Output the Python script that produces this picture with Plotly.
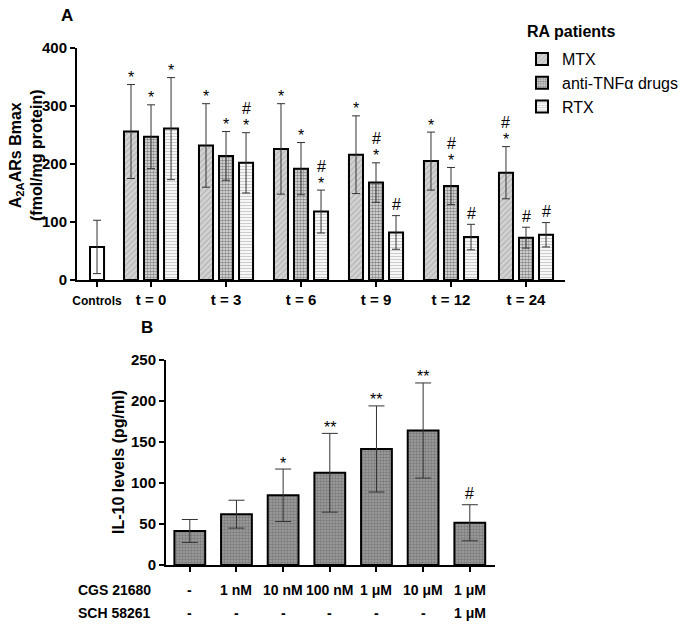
import plotly.graph_objects as go

# ---------------- Panel A data ----------------
groups_a = ["t = 0", "t = 3", "t = 6", "t = 9", "t = 12", "t = 24"]
control_label = "Controls"
control_mean = [57]
control_err = [46]

mtx_mean = [256, 232, 226, 216, 205, 185]
mtx_err = [81, 72, 78, 67, 50, 45]
anti_mean = [247, 214, 192, 168, 162, 73]
anti_err = [55, 42, 45, 34, 32, 18]
rtx_mean = [261, 202, 118, 82, 74, 78]
rtx_err = [88, 52, 37, 29, 22, 21]

# significance marks (lower, upper)
mtx_sig = [("*", ""), ("*", ""), ("*", ""), ("*", ""), ("*", ""), ("*", "#")]
anti_sig = [("*", ""), ("*", ""), ("*", ""), ("*", "#"), ("*", "#"), ("#", "")]
rtx_sig = [("*", ""), ("*", "#"), ("*", "#"), ("#", ""), ("#", ""), ("#", "")]

series_names = ["MTX", "anti-TNF\u03b1 drugs", "RTX"]
yticks_a = [0, 100, 200, 300, 400]

# ---------------- Panel B data ----------------
cgs_labels = ["-", "1 nM", "10 nM", "100 nM", "1 \u03bcM", "10 \u03bcM", "1 \u03bcM"]
sch_labels = ["-", "-", "-", "-", "-", "-", "1 \u03bcM"]
il10_mean = [41.5, 62, 85, 112.5, 141.5, 164, 51.5]
il10_err = [14, 17, 32, 48, 52.5, 58, 22]
il10_sig = ["", "", "*", "**", "**", "**", "#"]
yticks_b = [0, 50, 100, 150, 200, 250]

FONT = "Liberation Sans, Arial, sans-serif"

fig = go.Figure()

# positions (group spacing = 1)
ng = len(groups_a)
gx = list(range(ng))
ctrl_x = -0.72
off = 0.267
bw = 0.187

styles = [
    dict(color="#d2d2d2", pattern=dict(shape="/", fgcolor="#8a8a8a", size=4, solidity=0.25, fillmode="overlay")),
    dict(color="#e6e6e6", pattern=dict(shape=".", fgcolor="#2a2a2a", size=3, solidity=0.55, fillmode="overlay")),
    dict(color="#ffffff", pattern=dict(shape="-", fgcolor="#9a9a9a", size=3, solidity=0.45, fillmode="overlay")),
]

# controls bar
fig.add_trace(go.Bar(
    x=[ctrl_x], y=control_mean, width=bw, xaxis="x", yaxis="y",
    marker=dict(color="white", line=dict(color="black", width=2)),
    error_y=dict(type="data", array=control_err, color="#333", thickness=1, width=4),
    showlegend=False, hoverinfo="skip"))

means = [mtx_mean, anti_mean, rtx_mean]
errs = [mtx_err, anti_err, rtx_err]
sigs = [mtx_sig, anti_sig, rtx_sig]
annotations = []
for k in range(3):
    xs = [g + (k - 1) * off for g in gx]
    fig.add_trace(go.Bar(
        x=xs, y=means[k], width=bw, name=series_names[k], xaxis="x", yaxis="y",
        marker=dict(color=styles[k]["color"], pattern=styles[k]["pattern"],
                    line=dict(color="black", width=2)),
        error_y=dict(type="data", array=errs[k], color="#333", thickness=1, width=4),
        hoverinfo="skip"))
    for i in range(ng):
        top = means[k][i] + errs[k][i]
        lo, hi = sigs[k][i]
        for j, s in enumerate([lo, hi]):
            if not s:
                continue
            ys = (7 if s == "*" else 11) + 13 * j
            annotations.append(dict(
                x=xs[i], y=top, xref="x", yref="y", text=s, showarrow=False,
                xanchor="center", yanchor="middle", yshift=ys,
                font=dict(family=FONT, size=16, color="black")))

# Panel B bars
bx = list(range(len(il10_mean)))
fig.add_trace(go.Bar(
    x=bx, y=il10_mean, width=0.66, xaxis="x2", yaxis="y2",
    marker=dict(color="#a0a0a0", pattern=dict(shape=".", fgcolor="#555555", size=3, solidity=0.5, fillmode="overlay"),
                line=dict(color="black", width=2)),
    error_y=dict(type="data", array=il10_err, color="#333", thickness=1, width=8),
    showlegend=False, hoverinfo="skip"))
for i, s in enumerate(il10_sig):
    if not s:
        continue
    annotations.append(dict(
        x=bx[i], y=il10_mean[i] + il10_err[i], xref="x2", yref="y2", text=s, showarrow=False,
        xanchor="center", yanchor="middle", yshift=(6 if "*" in s else 11),
        font=dict(family=FONT, size=16, color="black")))

# Panel B row labels
row_y = [1 - 590 / 624, 1 - 613 / 624]
for r, (lab, vals) in enumerate([("CGS 21680", cgs_labels), ("SCH 58261", sch_labels)]):
    annotations.append(dict(x=153 / 687, y=row_y[r], xref="paper", yref="paper", text="<b>%s</b>" % lab,
                            showarrow=False, xanchor="right", yanchor="middle",
                            font=dict(family=FONT, size=14, color="black")))
    for i, v in enumerate(vals):
        annotations.append(dict(x=bx[i], y=row_y[r], xref="x2", yref="paper", text="<b>%s</b>" % v,
                                showarrow=False, xanchor="center", yanchor="middle",
                                font=dict(family=FONT, size=14, color="black")))

# Panel letters and titles
annotations += [
    dict(x=67 / 687, y=1 - 15 / 624, xref="paper", yref="paper", text="<b>A</b>", showarrow=False,
         xanchor="center", yanchor="middle", font=dict(family=FONT, size=17, color="black")),
    dict(x=147 / 687, y=1 - 327 / 624, xref="paper", yref="paper", text="<b>B</b>", showarrow=False,
         xanchor="center", yanchor="middle", font=dict(family=FONT, size=17, color="black")),
    dict(x=26 / 687, y=1 - 155 / 624, xref="paper", yref="paper",
         text="<b>A<sub>2A</sub>ARs Bmax<br>(fmol/mg protein)</b>", showarrow=False, textangle=-90,
         xanchor="center", yanchor="middle", font=dict(family=FONT, size=16, color="black")),
    dict(x=118 / 687, y=1 - 462 / 624, xref="paper", yref="paper",
         text="<b>IL-10 levels (pg/ml)</b>", showarrow=False, textangle=-90,
         xanchor="center", yanchor="middle", font=dict(family=FONT, size=16, color="black")),
    dict(x=525 / 687, y=1 - 31 / 624, xref="paper", yref="paper", text="<b>RA patients</b>",
         showarrow=False, xanchor="left", yanchor="middle", font=dict(family=FONT, size=16, color="black")),
]

axis_common = dict(showline=True, linecolor="black", linewidth=2, ticks="outside", ticklen=5,
                   tickwidth=2, tickcolor="black", showgrid=False, zeroline=False,
                   tickfont=dict(family=FONT, size=15, color="black"))

ticktext_a = ["<span style='font-size:12px'><b>%s</b></span>" % control_label] + ["<b>%s</b>" % g for g in groups_a]

fig.update_layout(
    width=687, height=624, margin=dict(l=0, r=0, t=0, b=0, autoexpand=False),
    plot_bgcolor="white", paper_bgcolor="white",
    barmode="overlay", showlegend=True,
    xaxis=dict(domain=[77 / 687, 565 / 687], range=[-0.987, 5.52], tickvals=[ctrl_x] + gx,
               ticktext=ticktext_a, anchor="y", automargin=False, **axis_common),
    yaxis=dict(domain=[1 - 280 / 624, 1 - 48 / 624], range=[0, 400], tickvals=yticks_a,
               ticktext=["<b>%d</b>" % v for v in yticks_a], anchor="x", automargin=False, **axis_common),
    xaxis2=dict(domain=[166 / 687, 495 / 687], range=[-0.51, 6.54], tickvals=bx,
                showticklabels=False, anchor="y2", automargin=False, **axis_common),
    yaxis2=dict(domain=[1 - 565 / 624, 1 - 360 / 624], range=[0, 250], tickvals=yticks_b,
                ticktext=["<b>%d</b>" % v for v in yticks_b], anchor="x2", automargin=False, **axis_common),
    legend=dict(x=522 / 687, y=1 - 42 / 624, xanchor="left", yanchor="top",
                font=dict(family=FONT, size=16, color="black"), bgcolor="rgba(0,0,0,0)",
                tracegroupgap=0),
    annotations=annotations,
)

fig.write_html("out.html", config={"displayModeBar": False},
               post_script="document.body.style.margin='0';document.body.style.overflow='hidden';")
